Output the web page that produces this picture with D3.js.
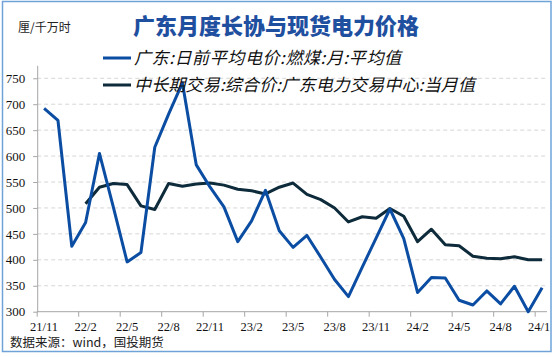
<!DOCTYPE html>
<html><head><meta charset="utf-8">
<script src="https://cdn.jsdelivr.net/npm/d3@7"></script>
<style>
html,body{margin:0;padding:0;background:#fff;}
svg{display:block;}
</style></head>
<body>
<svg id="c" width="554" height="357"></svg>
<script>
const months = ["21/11","21/12","22/1","22/2","22/3","22/4","22/5","22/6","22/7","22/8","22/9","22/10","22/11","22/12",
"23/1","23/2","23/3","23/4","23/5","23/6","23/7","23/8","23/9","23/10","23/11","23/12",
"24/1","24/2","24/3","24/4","24/5","24/6","24/7","24/8","24/9","24/10","24/11"];
const spotValues = [692,669,426,472,605,502,396,414,617,681,741,583,540,502,435,475,534,456,424,447,405,362,329,386,442,498,441,337,366,365,322,313,340,315,349,300,346];
const longTermValues = [null,null,null,508,540,547,545,504,497,547,542,546,548,544,536,533,527,540,548,526,516,500,473,483,480,499,484,435,459,429,427,407,403,402,406,400,400];
const xTickLabels = ["21/11","22/2","22/5","22/8","22/11","23/2","23/5","23/8","23/11","24/2","24/5","24/8","24/11"];
const yTicks = [300,350,400,450,500,550,600,650,700,750];
const seriesNames = ["广东:日前平均电价:燃煤:月:平均值","中长期交易:综合价:广东电力交易中心:当月值"];
const title = "广东月度长协与现货电力价格";
const unitLabel = "厘/千万时";
const sourceText = "数据来源：wind，国投期货";

const svg = d3.select("#c");
const cjk = "'Noto Sans CJK SC','Noto Sans',sans-serif";
const serif = "'Liberation Serif','DejaVu Serif',serif";
const blue = "#0b4da2", dark = "#0d2b3b";

svg.append("defs").append("clipPath").attr("id","clipR")
  .append("rect").attr("x",0).attr("y",0).attr("width",549.5).attr("height",357);

// frame
svg.append("rect").attr("x",2.5).attr("y",1.5).attr("width",548.5).attr("height",350)
  .attr("fill","none").attr("stroke","#6fa3d8").attr("stroke-width",1.5);

const x = d3.scaleBand().domain(months).range([37.2, 549]).padding(0);
const y = d3.scaleLinear().domain([300, 775]).range([311.7, 65.3]);
const bw = x.bandwidth();

// gridlines
svg.append("g").selectAll("line").data(yTicks.filter(v=>v>300)).join("line")
  .attr("x1",37.2).attr("x2",546).attr("y1",d=>y(d)).attr("y2",d=>y(d))
  .attr("stroke","#d6d6d6").attr("stroke-width",1).attr("stroke-dasharray","4,3");

// y axis
const yAxis = d3.axisLeft(y).tickValues(yTicks).tickSize(4).tickSizeOuter(0).tickPadding(8);
const gy = svg.append("g").attr("transform","translate(37.2,0)").call(yAxis);
gy.select(".domain").attr("stroke","#a6a6a6");
gy.selectAll(".tick line").attr("stroke","#a6a6a6");
gy.selectAll("text").attr("font-family",serif).attr("font-size",13).attr("fill","#111");

// x axis
svg.append("line").attr("x1",37.2).attr("x2",547).attr("y1",y(300)).attr("y2",y(300)).attr("stroke","#a6a6a6");
const gx = svg.append("g").attr("clip-path","url(#clipR)");
gx.selectAll("line").data(xTickLabels).join("line")
  .attr("x1",d=>x(d)).attr("x2",d=>x(d)).attr("y1",y(300)).attr("y2",y(300)+5).attr("stroke","#a6a6a6");
gx.selectAll("text").data(xTickLabels).join("text")
  .attr("x",d=>x(d)+bw/2).attr("y",330.5).attr("text-anchor","middle")
  .attr("font-family",serif).attr("font-size",12.5).attr("fill","#111").text(d=>d);

// lines
const line = d3.line().defined(d=>d.v!=null).x(d=>x(d.m)+bw/2).y(d=>y(d.v));
svg.append("path").datum(months.map((m,i)=>({m,v:longTermValues[i]})))
  .attr("d",line).attr("fill","none").attr("stroke",dark).attr("stroke-width",3).attr("stroke-linejoin","round");
svg.append("path").datum(months.map((m,i)=>({m,v:spotValues[i]})))
  .attr("d",line).attr("fill","none").attr("stroke",blue).attr("stroke-width",3).attr("stroke-linejoin","round");

// title & labels
svg.append("text").attr("x",276).attr("y",34).attr("text-anchor","middle")
  .attr("font-family",cjk).attr("font-weight",800).attr("font-size",22).attr("fill","#1f4f9f").text(title);
svg.append("text").attr("x",18).attr("y",32).attr("font-family",cjk).attr("font-size",12).attr("fill","#222").text(unitLabel);

// legend
const leg = svg.append("g");
const legY = [58, 85];
const legColors = [blue, dark];
const legLen = [267, 341];
seriesNames.forEach((n,i)=>{
  leg.append("line").attr("x1",103).attr("x2",131).attr("y1",legY[i]).attr("y2",legY[i]).attr("stroke",legColors[i]).attr("stroke-width",3);
  leg.append("text").attr("x",134).attr("y",legY[i]+6).attr("font-family",cjk).attr("font-style","italic")
    .attr("font-size",17).attr("fill","#111").attr("textLength",legLen[i]).attr("lengthAdjust","spacing").text(n);
});

svg.append("text").attr("x",10).attr("y",347).attr("font-family",cjk).attr("font-size",12.5).attr("fill","#222").text(sourceText);
</script>
</body></html>
